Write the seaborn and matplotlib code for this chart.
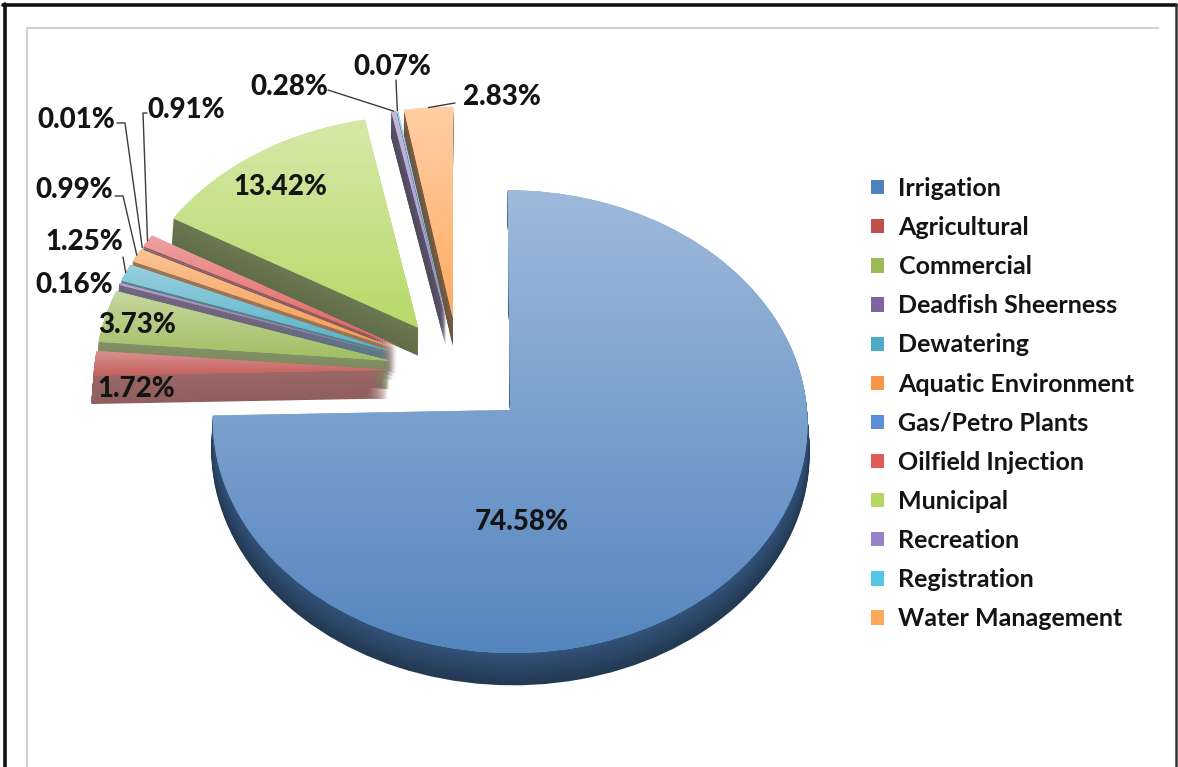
import numpy as np
import matplotlib
matplotlib.use("Agg")
import matplotlib.pyplot as plt
import matplotlib.transforms as mtransforms
from matplotlib.colors import to_rgb
from matplotlib.lines import Line2D
from matplotlib.patches import Patch
import seaborn as sns

# ---- data -------------------------------------------------------------
categories = ["Irrigation", "Agricultural", "Commercial", "Deadfish Sheerness",
              "Dewatering", "Aquatic Environment", "Gas/Petro Plants",
              "Oilfield Injection", "Municipal", "Recreation", "Registration",
              "Water Management"]
shares = [74.58, 1.72, 3.73, 0.16, 1.25, 0.99, 0.01, 0.91, 13.42, 0.28, 0.07, 2.83]
value_labels = ["74.58%", "1.72%", "3.73%", "0.16%", "1.25%", "0.99%", "0.01%",
                "0.91%", "13.42%", "0.28%", "0.07%", "2.83%"]
colors = ["#4F81BD", "#C0504D", "#9BBB59", "#8064A2", "#4BACC6", "#F79646",
          "#5A8FD8", "#E05A58", "#B4D863", "#9A82C8", "#52C6E4", "#FFA85C"]

# ---- layout (pixels of the 1178 x 767 canvas, y measured from top) -----
W, H = 1178, 767
CX, CY = 459.0, 371.6        # pie centre
RX, RY = 294.5, 227.0        # pixels per unit radius (tilted view)
EXPLODE = 0.24
DEPTH = 0.125
N_LAYERS = 28
TILT_K = 0.05                # mild perspective: far side shrinks

# label anchors: (left x, baseline y)
label_pos = {0: (475, 530), 1: (97, 397), 2: (98, 333), 3: (35, 293),
             4: (45, 250), 5: (35, 198), 6: (37, 128), 7: (147, 118),
             8: (233, 195), 9: (250, 95), 10: (353, 75), 11: (463, 105)}
# leader-line start / elbow points; the line ends on the slice's rim
leaders = {6: [(117, 123), (125, 123)], 7: [(147, 113), (143, 113)],
           5: [(115, 196), (123, 196)], 4: [(123, 257)],
           9: [(328, 90)], 10: [(396, 80)], 11: [(455, 103)]}

sns.set_theme(style="white")
plt.rcParams["font.family"] = ["Lato", "DejaVu Sans"]


class Perspective(mtransforms.Transform):
    input_dims = output_dims = 2
    is_separable = False
    has_inverse = False

    def __init__(self, k):
        super().__init__()
        self.k = k

    def transform_non_affine(self, values):
        values = np.asarray(values, dtype=float)
        w = 1.0 + self.k * values[:, 1]
        return values / w[:, None]


def mix(c, other, t):
    a = np.array(to_rgb(c))
    b = np.array(to_rgb(other))
    return tuple(np.clip(a * (1 - t) + b * t, 0, 1))


fig = plt.figure(figsize=(W / 100, H / 100), dpi=100)
fig.patch.set_facecolor("white")
ax = fig.add_axes([0, 0, 1, 1])
ax.set_axis_off()

persp = Perspective(TILT_K)
xlim = (-CX / RX, (W - CX) / RX)
ylim = (-(H - CY) / RY, CY / RY)

fracs = np.array(shares) / np.sum(shares)
cum = np.concatenate([[0], np.cumsum(fracs)[:-1]])
mid_deg = 90 - 360 * (cum + fracs / 2)
dirs = np.column_stack([np.cos(np.radians(mid_deg)), np.sin(np.radians(mid_deg))])

# paint far slices first, near slices last
order = np.argsort(-dirs[:, 1])
step = N_LAYERS + 4
base_z = {int(i): 10 + rank * step for rank, i in enumerate(order)}

explode = [EXPLODE] * len(shares)


def side_colour(i, t):
    """Shade of the extruded wall: the front rim is dark, the cut faces of
    the pulled-out slices are muted and darken towards the back."""
    c = colors[i]
    if dirs[i, 1] < 0:
        return mix(c, "black", 0.36 + 0.2 * t)
    muted = mix(c, "#8c8c8c", 0.5)
    return mix(muted, "black", 0.05 + 0.33 * max(dirs[i, 1], 0) + 0.08 * t)


# extruded sides: stacked copies of the pie shifted downwards
for j in range(N_LAYERS, 0, -1):
    t = j / N_LAYERS
    side_cols = [side_colour(i, t) for i in range(len(colors))]
    wedges, _ = ax.pie(shares, explode=explode, startangle=90, counterclock=False,
                       radius=1, center=(0, -DEPTH * t), colors=side_cols,
                       wedgeprops=dict(linewidth=0, antialiased=True))
    for i, w in enumerate(wedges):
        w.set_transform(persp + ax.transData)
        w.set_zorder(base_z[i] + (N_LAYERS - j))

# top faces with a soft vertical light gradient
top_cols = [mix(c, "white", 0.25) for c in colors]
tops, _ = ax.pie(shares, explode=explode, startangle=90, counterclock=False,
                 radius=1, center=(0, 0), colors=top_cols,
                 wedgeprops=dict(linewidth=0, antialiased=True))
rows = np.linspace(0, 1, 64)
for i, w in enumerate(tops):
    w.set_transform(persp + ax.transData)
    w.set_zorder(base_z[i] + N_LAYERS + 1)
    verts = persp.transform(w.get_path().vertices)
    x0, y0 = verts.min(axis=0)
    x1, y1 = verts.max(axis=0)
    light = np.array(mix(colors[i], "white", 0.45))
    dark = np.array(mix(colors[i], "white", 0.03))
    grad = (light[None, :] * (1 - rows[:, None]) + dark[None, :] * rows[:, None])[:, None, :]
    im = ax.imshow(grad, extent=(x0 - 0.02, x1 + 0.02, y0 - 0.02, y1 + 0.02),
                   origin="upper", aspect="auto", interpolation="bilinear",
                   zorder=base_z[i] + N_LAYERS + 2)
    im.set_clip_path(w)

ax.set_aspect("auto")
ax.set_xlim(*xlim)
ax.set_ylim(*ylim)


def fig_xy(px, py):
    return px / W, 1 - py / H


# value labels
for i, txt in enumerate(value_labels):
    lx, ly = label_pos[i]
    fx, fy = fig_xy(lx, ly)
    fig.text(fx, fy, txt, ha="left", va="baseline", fontsize=20,
             fontweight="black", color="#141414", zorder=2000)

# leader lines ending on the outer rim of each slice
to_disp = persp + ax.transData
for i, pts in leaders.items():
    rim = (EXPLODE + 1.0) * dirs[i]
    dx, dy = to_disp.transform([rim])[0]
    xs = [p[0] / W for p in pts] + [dx / W]
    ys = [1 - p[1] / H for p in pts] + [dy / H]
    fig.add_artist(Line2D(xs, ys, transform=fig.transFigure, color="#3c3c3c",
                          lw=1.0, zorder=1500))

# legend
handles = [Patch(facecolor=c, edgecolor="none") for c in colors]
fig.legend(handles, categories, loc="upper left",
           bbox_to_anchor=(871 / W, 1 - 177 / H), frameon=False,
           prop=dict(family=["Lato", "DejaVu Sans"], weight="bold", size=18),
           labelspacing=0.645, handlelength=0.5, handleheight=0.5,
           handletextpad=0.6, borderpad=0, borderaxespad=0, labelcolor="#141414")

# frames: dark outer border and light inner plot-area border
def hline(x0, x1, y, **kw):
    fig.add_artist(Line2D([x0 / W, x1 / W], [1 - y / H, 1 - y / H],
                          transform=fig.transFigure, **kw))


def vline(x, y0, y1, **kw):
    fig.add_artist(Line2D([x / W, x / W], [1 - y0 / H, 1 - y1 / H],
                          transform=fig.transFigure, **kw))


hline(27, 1158, 28, color="#d2d2d2", lw=1.6)
vline(27, 28, H, color="#d2d2d2", lw=1.6)
hline(3, 1176, 5, color="#111111", lw=2.6)
vline(5, 4, H, color="#111111", lw=2.6)
vline(1175.5, 4, H, color="#333333", lw=1.8)

fig.savefig("out.png", dpi=100, facecolor="white")
